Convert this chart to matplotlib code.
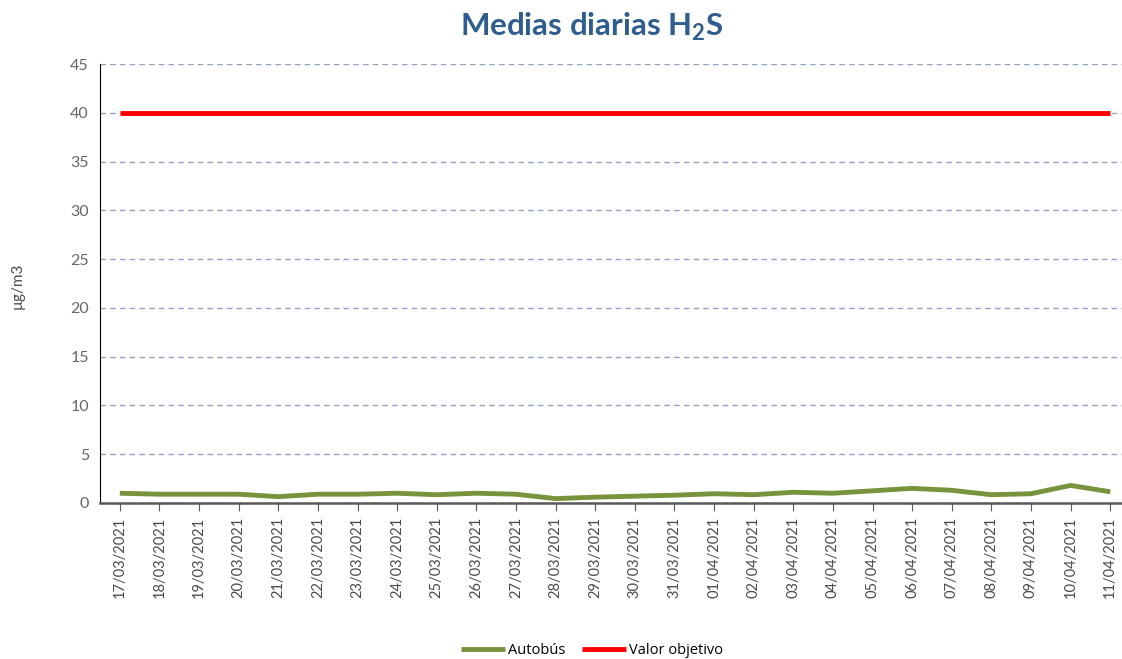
import matplotlib
matplotlib.use("Agg")
import matplotlib.pyplot as plt

dates = ["17/03/2021","18/03/2021","19/03/2021","20/03/2021","21/03/2021","22/03/2021",
         "23/03/2021","24/03/2021","25/03/2021","26/03/2021","27/03/2021","28/03/2021",
         "29/03/2021","30/03/2021","31/03/2021","01/04/2021","02/04/2021","03/04/2021",
         "04/04/2021","05/04/2021","06/04/2021","07/04/2021","08/04/2021","09/04/2021",
         "10/04/2021","11/04/2021"]
autobus = [1.0, 0.9, 0.9, 0.9, 0.65, 0.9, 0.9, 1.0, 0.85, 1.0, 0.9, 0.45,
           0.6, 0.7, 0.8, 0.95, 0.85, 1.1, 1.0, 1.25, 1.5, 1.3, 0.85, 0.95, 1.8, 1.15]
valor_objetivo = [40] * len(dates)

plt.rcParams["mathtext.fontset"] = "custom"
plt.rcParams["mathtext.rm"] = "Lato"
plt.rcParams["mathtext.bf"] = "Lato:bold"

W, H = 1122, 659
fig = plt.figure(figsize=(W/100, H/100), dpi=100)
ax = fig.add_axes([100/W, 1-503/H, (1130-100)/W, (503-64)/H])

x = list(range(len(dates)))
ax.plot(x, autobus, color="#77933C", lw=3.5, label="Autobús", solid_capstyle="butt")
ax.plot(x, valor_objetivo, color="#FF0000", lw=3.5, label="Valor objetivo", solid_capstyle="butt")

ax.set_xlim(-0.5, len(dates)-0.5)
ax.set_ylim(0, 45)
ax.set_yticks(range(0, 46, 5))
ax.set_xticks(x)
ax.set_xticklabels(dates, rotation=90, fontsize=10.5, color="#4a4a4a", family="Lato")
for lab in ax.get_yticklabels():
    lab.set_fontsize(11.5); lab.set_color("#666666"); lab.set_family("Lato")
ax.grid(axis="y", linestyle=(0, (4, 3)), color="#8EA4C2", lw=1)
ax.set_axisbelow(True)
for s in ["top", "right"]:
    ax.spines[s].set_visible(False)
ax.spines["left"].set_color("#000000")
ax.spines["bottom"].set_color("#595959")
ax.spines["bottom"].set_linewidth(1.8)
ax.tick_params(axis="y", length=0, pad=8)
ax.tick_params(axis="x", length=6, direction="out", color="#595959", pad=4)

fig.text(18/W, 1-286/H, "µg/m3", rotation=90, ha="center", va="center",
         fontsize=11, color="#4a4a4a", family="Lato")
fig.text(592/W, 1-27/H, r"Medias diarias H$_\mathbf{2}$S", ha="center", va="center",
         fontsize=22.5, fontweight="bold", color="#2F5D8F", family="Lato")

leg = fig.legend(loc="center", bbox_to_anchor=(592/W, 1-651/H), ncol=2, frameon=False,
                 handlelength=3, columnspacing=1.2, handletextpad=0.2,
                 prop={"family": "Open Sans", "size": 10.5})
fig.savefig("out.png", dpi=100)
